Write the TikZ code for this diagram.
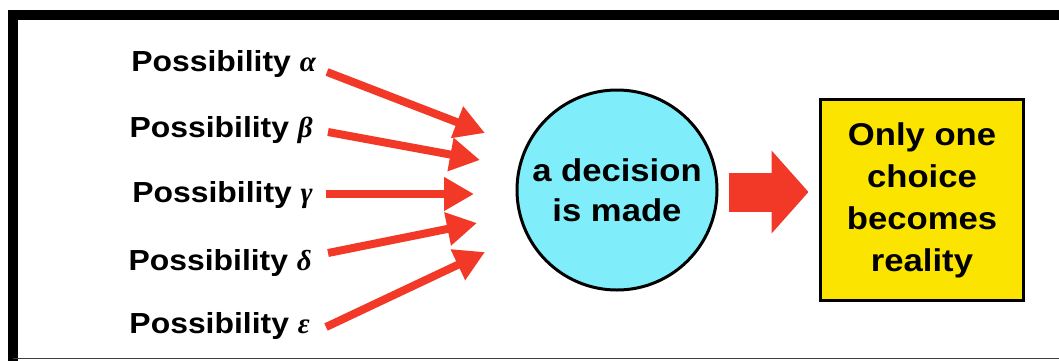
\documentclass[tikz,border=0pt]{standalone}
\usepackage{fontspec}
\setmainfont[FakeStretch=1.1]{Liberation Sans}
\newfontfamily\greekfont{Liberation Serif}
\usetikzlibrary{arrows.meta,calc}
\definecolor{arrred}{RGB}{242,56,38}
\definecolor{cyanfill}{RGB}{128,238,250}
\definecolor{yellowfill}{RGB}{250,228,0}
\newcommand{\gk}[1]{{\greekfont\bfseries\itshape #1}}
\begin{document}
\begin{tikzpicture}[x=1pt,y=-1pt,
  lbl/.style={font=\fontsize{29}{34}\selectfont\bfseries, anchor=base east, inner sep=0pt},
  thinarrow/.style={draw=arrred, line width=8pt, -{Triangle[length=30pt,width=32pt]}},
  bigarrow/.style={draw=arrred, line width=39pt, -{Triangle[length=37pt,width=81pt]}},
  decision/.style={circle, draw=black, line width=3pt, fill=cyanfill, minimum size=200pt, inner sep=0pt, align=center, font=\fontsize{31.5}{40}\selectfont\bfseries},
  result/.style={rectangle, draw=black, line width=3pt, fill=yellowfill, minimum width=203pt, minimum height=201pt, inner sep=0pt, align=center, font=\fontsize{31.5}{42}\selectfont\bfseries}
]
\useasboundingbox (0,0) rectangle (1059,360);
% frame
\draw[line width=10pt] (13,362) -- (13,15) -- (1062,15);
\draw[line width=1.2pt, black!75] (13,358.5) -- (1059,358.5);

% labels
\node[lbl] (la) at (316,71) {Possibility \gk{α}};
\node[lbl] (lb) at (313,137) {Possibility \gk{β}};
\node[lbl] (lg) at (313,202) {Possibility \gk{γ}};
\node[lbl] (ld) at (312,270) {Possibility \gk{δ}};
\node[lbl] (le) at (310,333) {Possibility \gk{ε}};

% arrow ends
\coordinate (sa) at (327,72);  \coordinate (ta) at (485,133);
\coordinate (sb) at (328,132); \coordinate (tb) at (480,160);
\coordinate (sg) at (326,194); \coordinate (tg) at (474,194);
\coordinate (sd) at (328,253); \coordinate (td) at (477,223);
\coordinate (se) at (326,327); \coordinate (te) at (485,252);

\draw[thinarrow] (sa) -- (ta);
\draw[thinarrow] (sb) -- (tb);
\draw[thinarrow] (sg) -- (tg);
\draw[thinarrow] (sd) -- (td);
\draw[thinarrow] (se) -- (te);

% circle and box
\node[decision] (c) at (617,190) {a decision\\is made};
\node[result] (b) at (922,200) {Only one\\choice\\becomes\\reality};

\draw[bigarrow] ($(c.east)+(10,2)$) -- ($(c.east)+(90,2)$);
\end{tikzpicture}
\end{document}
